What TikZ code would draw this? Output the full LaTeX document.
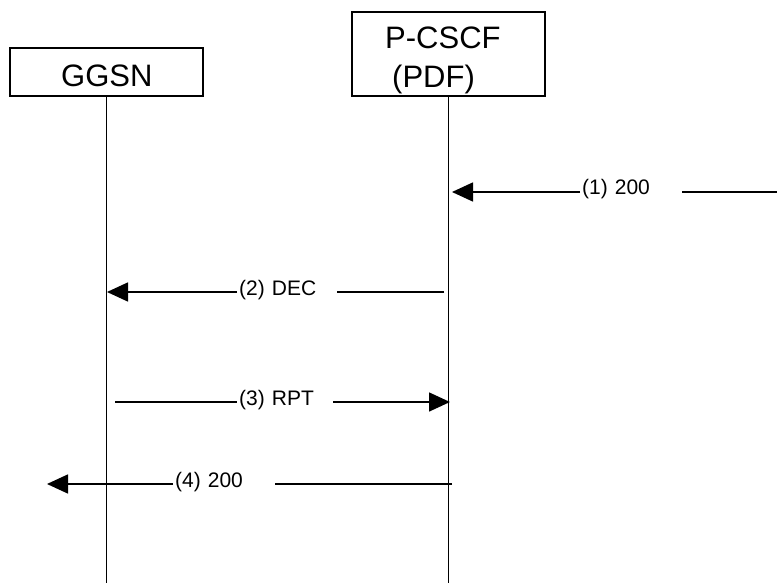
\documentclass[tikz,border=0pt]{standalone}
\usepackage{fontspec}
\setmainfont{Liberation Sans}
\usetikzlibrary{positioning,arrows.meta}

\begin{document}
\begin{tikzpicture}
  [x=1pt,y=-1pt,
   box/.style={draw,line width=1.8pt,inner sep=0pt,minimum width=193pt},
   entity/.style={font=\fontsize{31}{39}\selectfont,inner sep=0pt,anchor=base west},
   msg/.style={line width=1.6pt},
   tip/.style={-{Triangle[length=21pt,width=19pt]}},
   lbl/.style={font=\fontsize{21}{24}\selectfont,inner xsep=2pt,inner ysep=0pt,
               text height=10pt,text depth=4pt,anchor=west,align=left}]

  \useasboundingbox (0,0) rectangle (777,583);

  % entities
  \node[box,minimum height=48pt] (ggsn) at (106.5,72) {};
  \node[box,minimum height=84pt] (pcscf) at (448.5,54) {};
  \node[entity] (ggsnt) at (61,87) {GGSN};
  \node[entity] (pcscft) at (385,49) {P-CSCF};
  \node[entity] (pdft) at (392,88) {(PDF)};

  % lifelines
  \coordinate (bottom) at (0,583);
  \draw[msg] (ggsn.south) -- (ggsn.south |- bottom);
  \draw[msg] (pcscf.south) -- (pcscf.south |- bottom);

  % (1) 200
  \coordinate (m1s) at (777,192);
  \coordinate (m1e) at (452,192);
  \node[lbl,text width=98pt] (t1) at (580,192) {(1) 200};
  \draw[msg] (m1s) -- (t1.east);
  \draw[msg,tip] (t1.west) -- (m1e);

  % (2) DEC
  \coordinate (m2s) at (444,292);
  \coordinate (m2e) at (107,292);
  \node[lbl,text width=96pt] (t2) at (237,292) {(2) DEC};
  \draw[msg] (m2s) -- (t2.east);
  \draw[msg,tip] (t2.west) -- (m2e);

  % (3) RPT
  \coordinate (m3s) at (115,402);
  \coordinate (m3e) at (450,402);
  \node[lbl,text width=92pt] (t3) at (237,402) {(3) RPT};
  \draw[msg] (m3s) -- (t3.west);
  \draw[msg,tip] (t3.east) -- (m3e);

  % (4) 200
  \coordinate (m4s) at (452,484);
  \coordinate (m4e) at (47,484);
  \node[lbl,text width=98pt] (t4) at (173,484) {(4) 200};
  \draw[msg] (m4s) -- (t4.east);
  \draw[msg,tip] (t4.west) -- (m4e);

\end{tikzpicture}
\end{document}
